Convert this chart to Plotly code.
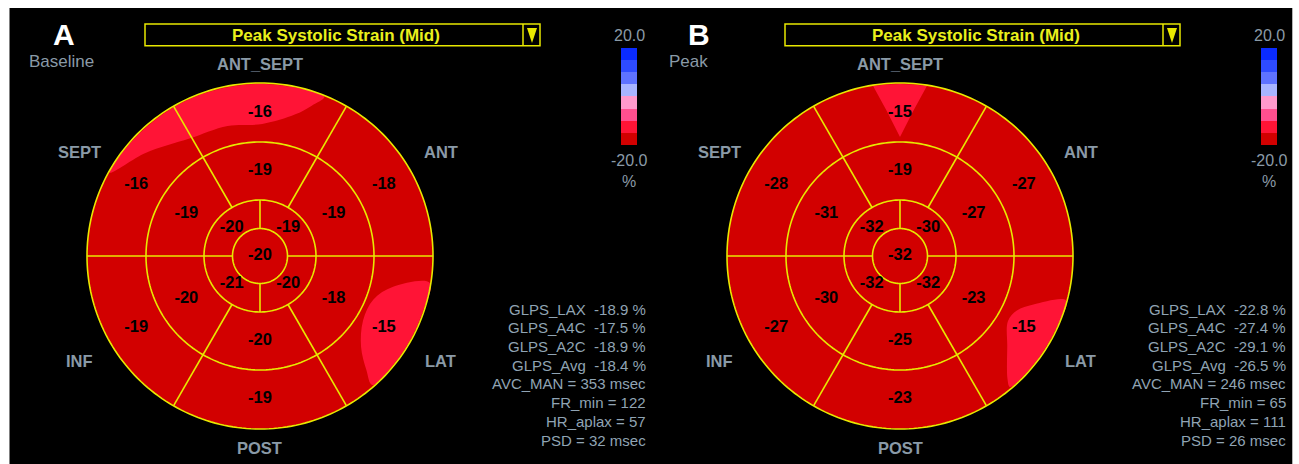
import numpy as np
import plotly.graph_objects as go

W, H = 1299, 464

# ---------------- data ----------------
regions = ["ANT_SEPT", "ANT", "LAT", "POST", "INF", "SEPT"]
apical_names = ["UL", "UR", "LL", "LR"]

basal_A = [-16, -18, -15, -19, -19, -16]
mid_A = [-19, -19, -18, -20, -20, -19]
apical_A = [-20, -19, -21, -20]
apex_A = -20

basal_B = [-15, -27, -15, -23, -27, -28]
mid_B = [-19, -27, -23, -25, -30, -31]
apical_B = [-32, -30, -32, -32]
apex_B = -32

stats_A = ["GLPS_LAX\u00a0\u00a0-18.9 %", "GLPS_A4C\u00a0\u00a0-17.5 %", "GLPS_A2C\u00a0\u00a0-18.9 %",
           "GLPS_Avg\u00a0\u00a0-18.4 %", "AVC_MAN = 353 msec", "FR_min = 122",
           "HR_aplax = 57", "PSD = 32 msec"]
stats_B = ["GLPS_LAX\u00a0\u00a0-22.8 %", "GLPS_A4C\u00a0\u00a0-27.4 %", "GLPS_A2C\u00a0\u00a0-29.1 %",
           "GLPS_Avg\u00a0\u00a0-26.5 %", "AVC_MAN = 246 msec", "FR_min = 65",
           "HR_aplax = 111", "PSD = 26 msec"]

cb_min, cb_max = -20.0, 20.0
cb_colors = ["#d20000", "#ff1436", "#ff4f8f", "#ff99cc",
             "#a8b4ff", "#5e72ff", "#2e4bff", "#0a2bff"]  # bottom -> top

# lighter (-15..-10 band) regions, (r, theta)
patchA1_r = [172, 172, 172, 172, 172, 172, 172, 154, 137, 134, 132, 146, 159]
patchA1_t = [68, 82, 96, 110, 124, 138, 151, 138, 121, 104, 89, 76, 71]
patchA2_r = [172, 172, 172, 172, 171, 156, 136, 121.5, 121.5, 136.6]
patchA2_t = [-9, -19, -29, -39, -49, -47, -42, -32, -21, -13]
patchB1_r = [172, 172, 172, 172, 172, 146, 119, 146]
patchB1_t = [81, 85.5, 90, 94.5, 99, 95.3, 90, 84.7]
patchB2_r = [172, 172, 172, 172, 171, 164, 140, 126, 129, 142]
patchB2_t = [-15, -25, -35, -44, -50, -49, -40, -31, -25, -20]

# ---------------- layout constants ----------------
CX = [260, 900]
CY = 256
RMAX = 175
R_APEX, R_API, R_MID, R_OUT = 27.5, 56, 114, 173
SEG_ANG = [90, 30, -30, 270, 210, 150]
API_ANG = [135, 45, 225, 315]
YEL = "#e8e800"
GRAY = "#8a9aa7"
STAT = "#90a4b4"
FONT = "Liberation Sans, Arial, sans-serif"


def px(x):
    return x / W


def py(y):
    return 1 - y / H


# discrete colorscale
cs = []
eps = 1e-3
for i, c in enumerate(cb_colors):
    lo = 0 if i == 0 else i / 8 + eps
    hi = 1 if i == 7 else (i + 1) / 8 + eps
    cs.append([lo, c])
    cs.append([hi, c])

fig = go.Figure()

panels = [
    dict(basal=basal_A, mid=mid_A, api=apical_A, apex=apex_A, stats=stats_A,
         patches=[(patchA1_r, patchA1_t, "spline"), (patchA2_r, patchA2_t, "spline")],
         letter="A", sub="Baseline", polar="polar", cax="coloraxis"),
    dict(basal=basal_B, mid=mid_B, api=apical_B, apex=apex_B, stats=stats_B,
         patches=[(patchB1_r, patchB1_t, "linear"), (patchB2_r, patchB2_t, "spline")],
         letter="B", sub="Peak", polar="polar2", cax="coloraxis2"),
]

annotations = []
shapes = [dict(type="rect", xref="paper", yref="paper", x0=px(9.5), x1=px(1292.3),
               y0=0, y1=py(8), fillcolor="black", line=dict(width=0), layer="below")]

for k, p in enumerate(panels):
    vals = p["basal"] + p["mid"] + p["api"] + [p["apex"]]
    theta = SEG_ANG + SEG_ANG + API_ANG + [0]
    width = [60] * 12 + [90] * 4 + [360]
    base = [R_MID] * 6 + [R_API] * 6 + [R_APEX] * 4 + [0]
    thick = [R_OUT - R_MID] * 6 + [R_MID - R_API] * 6 + [R_API - R_APEX] * 4 + [R_APEX]
    fig.add_trace(go.Barpolar(
        r=thick, base=base, theta=theta, width=width,
        marker=dict(color=vals, coloraxis=p["cax"], line=dict(width=0)),
        subplot=p["polar"], showlegend=False, hoverinfo="skip"))

    for pr, pt, shp in p["patches"]:
        fig.add_trace(go.Scatterpolar(
            r=pr + [pr[0]], theta=pt + [pt[0]], mode="lines", fill="toself",
            fillcolor=cb_colors[1], line=dict(width=0, color=cb_colors[1], shape=shp),
            subplot=p["polar"], showlegend=False, hoverinfo="skip"))

    # outline (segment borders)
    lr, lt = [], []
    circ = np.linspace(0, 360, 241)
    for rr in [R_APEX, R_API, R_MID, R_OUT]:
        lr += [rr] * len(circ) + [None]
        lt += list(circ) + [None]
    for a in [0, 180]:
        lr += [R_APEX, R_OUT, None]
        lt += [a, a, None]
    for a in [60, 120, 240, 300]:
        lr += [R_API, R_OUT, None]
        lt += [a, a, None]
    for a in [90, 270]:
        lr += [R_APEX, R_API, None]
        lt += [a, a, None]
    fig.add_trace(go.Scatterpolar(
        r=lr, theta=lt, mode="lines", line=dict(color=YEL, width=1.6),
        connectgaps=False, subplot=p["polar"], showlegend=False, hoverinfo="skip"))

    # value labels
    fig.add_trace(go.Scatterpolar(
        r=[143] * 6 + [85] * 6 + [40] * 4 + [0], theta=theta,
        mode="text", text=[str(v) for v in vals],
        textfont=dict(family=FONT, size=16.5, color="black", weight="bold"),
        subplot=p["polar"], showlegend=False, hoverinfo="skip"))

    off = 640 * k
    cx = CX[k]
    # region labels
    lab_r = [192, 209, 209, 192, 209, 209]
    for name, a, rr in zip(regions, SEG_ANG, lab_r):
        xx = cx + rr * np.cos(np.radians(a))
        yy = CY - rr * np.sin(np.radians(a))
        annotations.append(dict(x=px(xx), y=py(yy), text=name, showarrow=False,
                                xanchor="center", yanchor="middle",
                                font=dict(family=FONT, size=16.5, color=GRAY, weight="bold")))
    # panel letter & subtitle
    annotations.append(dict(x=px(63.5 - 5 * k + off), y=py(34), text=p["letter"], showarrow=False,
                            xanchor="center", yanchor="middle",
                            font=dict(family=FONT, size=30, color="white", weight="bold")))
    annotations.append(dict(x=px(26.5 + off), y=py(61), text=p["sub"], showarrow=False,
                            xanchor="left", yanchor="middle",
                            font=dict(family=FONT, size=17, color=GRAY)))
    # title box
    annotations.append(dict(x=px(336 + off), y=py(36), text="Peak Systolic Strain (Mid)",
                            showarrow=False, xanchor="center", yanchor="middle",
                            font=dict(family=FONT, size=17, color="#eaf01c", weight="bold")))
    shapes.append(dict(type="rect", xref="paper", yref="paper", x0=px(145 + off), x1=px(540 + off),
                       y0=py(45.7), y1=py(24), line=dict(color=YEL, width=1.5)))
    shapes.append(dict(type="line", xref="paper", yref="paper", x0=px(523 + off), x1=px(523 + off),
                       y0=py(45.7), y1=py(24), line=dict(color=YEL, width=1.5)))
    shapes.append(dict(type="path", xref="paper", yref="paper",
                       path=f"M {px(527 + off)},{py(28)} L {px(537 + off)},{py(28)} L {px(532 + off)},{py(43)} Z",
                       fillcolor=YEL, line=dict(width=0)))
    # colorbar labels
    for txt, yy in [("20.0", 36), ("-20.0", 160), ("%", 182)]:
        annotations.append(dict(x=px(629 + off), y=py(yy), text=txt, showarrow=False,
                                xanchor="center", yanchor="middle",
                                font=dict(family=FONT, size=16, color=GRAY)))
    # stats
    for i, s in enumerate(p["stats"]):
        annotations.append(dict(x=px(648 + off), y=py(309 + 18.73 * i), text=s, showarrow=False,
                                xanchor="right", yanchor="middle",
                                font=dict(family=FONT, size=15, color=STAT)))


def polar_layout(cx):
    return dict(
        domain=dict(x=[px(cx - RMAX), px(cx + RMAX)], y=[py(CY + RMAX), py(CY - RMAX)]),
        bgcolor="rgba(0,0,0,0)", barmode="overlay", hole=0,
        radialaxis=dict(visible=False, range=[0, RMAX]),
        angularaxis=dict(visible=False, direction="counterclockwise", rotation=0),
    )


def cbar(x):
    return dict(x=px(x), xanchor="left", xpad=0, y=py(48), yanchor="top", ypad=0,
                len=97, lenmode="pixels", thickness=16, thicknessmode="pixels",
                outlinewidth=0, showticklabels=False, ticks="")


fig.update_layout(
    width=W, height=H, margin=dict(l=0, r=0, t=0, b=0),
    paper_bgcolor="white", plot_bgcolor="black",
    polar=polar_layout(CX[0]), polar2=polar_layout(CX[1]),
    coloraxis=dict(colorscale=cs, cmin=cb_min, cmax=cb_max, colorbar=cbar(621)),
    coloraxis2=dict(colorscale=cs, cmin=cb_min, cmax=cb_max, colorbar=cbar(1261)),
    annotations=annotations, shapes=shapes, showlegend=False,
)

fig.write_html("out.html", config={"displayModeBar": False},
               post_script="document.body.style.margin='0';document.body.style.overflow='hidden';")
